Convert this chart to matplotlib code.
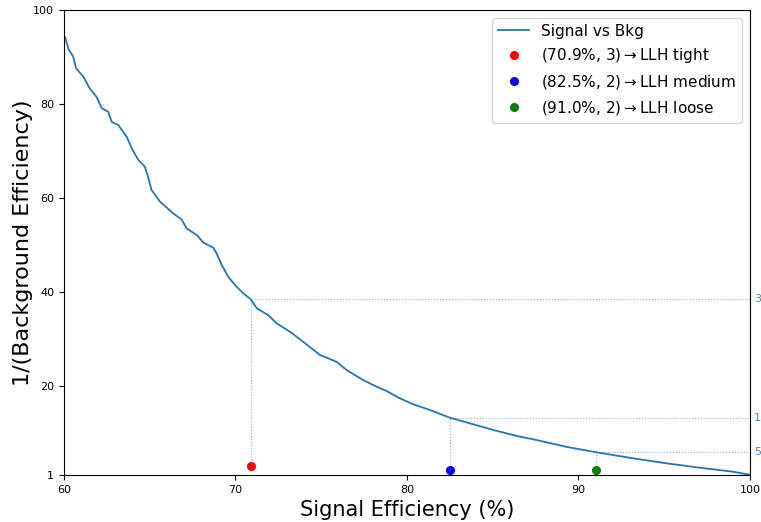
import matplotlib
matplotlib.use("Agg")
import matplotlib.pyplot as plt

# Signal efficiency (%) and 1/(background efficiency)
sig_eff = [60.0, 60.06, 60.25, 60.54, 60.7, 61.13, 61.5, 61.9, 62.2, 62.58, 62.78,
           63.17, 63.66, 63.95, 64.33, 64.72, 64.9, 65.1, 65.6, 66.37, 66.86,
           67.15, 67.74, 68.12, 68.7, 68.9, 69.2, 69.58, 69.97, 70.45, 70.89,
           71.24, 71.9, 72.4, 73.18, 73.76, 74.93, 75.9, 76.48, 77.45, 78.23,
           78.8, 79.6, 80.37, 81.34, 82.5, 83.67, 85.23, 86.6, 87.37, 89.3,
           91.06, 93.2, 95.14, 97.08, 99.03, 100.0]
inv_bkg = [94.0, 94.3, 91.8, 90.05, 87.6, 85.8, 83.3, 81.5, 79.1, 78.35, 76.2,
           75.5, 73.0, 70.55, 68.1, 66.6, 64.5, 61.7, 59.2, 56.7, 55.4,
           53.5, 52.1, 50.5, 49.4, 48.2, 45.7, 43.2, 41.45, 39.7, 38.4,
           36.5, 35.06, 33.3, 31.5, 29.9, 26.55, 25.1, 23.35, 21.2, 19.8,
           18.9, 17.3, 16.05, 14.84, 13.2, 12.0, 10.4, 9.15, 8.6, 7.0,
           5.83, 4.55, 3.49, 2.55, 1.7, 1.05]

# Working points
wp_names = ["LLH tight", "LLH medium", "LLH loose"]
wp_eff = [70.9, 82.5, 91.0]
wp_rej = [3, 2, 2]
wp_colors = ["red", "blue", "green"]
# Curve value at each working point (dotted guide lines)
wp_curve = [38.4, 13.2, 5.83]

x_ticks = [60, 70, 80, 90, 100]
y_ticks = [1, 20, 40, 60, 80, 100]

fig = plt.figure(figsize=(7.61, 5.22), dpi=100)
ax = fig.add_axes([0.0841, 0.090, 0.9014, 0.8908])

ax.plot(sig_eff, inv_bkg, color="tab:blue", lw=1.3, label="Signal vs Bkg")

guide_col = "tab:blue"
for e, r, c, n, yc in zip(wp_eff, wp_rej, wp_colors, wp_names, wp_curve):
    ax.plot([e, e], [r, yc], ls=":", lw=0.8, color=guide_col, alpha=0.55)
    ax.plot([e, 100], [yc, yc], ls=":", lw=0.8, color=guide_col, alpha=0.55)
    ax.text(100.25, yc, f"{yc:.1f}", color=guide_col, fontsize=8,
            va="center", ha="left", alpha=0.85, clip_on=False)
    ax.plot([e], [r], "o", color=c, ms=5.5, ls="none",
            label=f"({e:.1f}%, {r})$\\rightarrow${n}")

ax.set_xlim(60, 100)
ax.set_ylim(1, 100)
ax.set_xticks(x_ticks)
ax.set_yticks(y_ticks)
ax.tick_params(labelsize=8)
ax.set_xlabel("Signal Efficiency (%)", fontsize=15)
ax.set_ylabel("1/(Background Efficiency)", fontsize=16, labelpad=0)
ax.legend(loc="upper right", fontsize=11)

fig.savefig("out.png", dpi=100)
